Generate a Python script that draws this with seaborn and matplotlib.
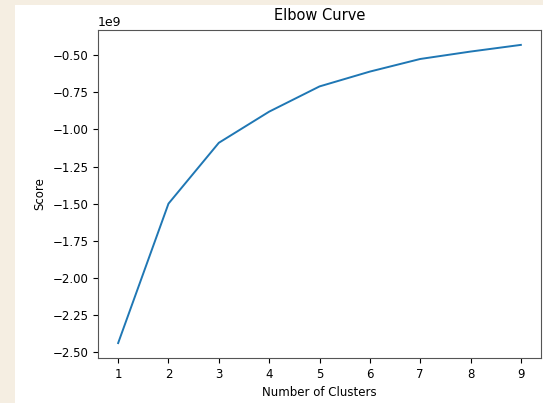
import numpy as np
import pandas as pd
import seaborn as sns
import matplotlib.pyplot as plt
from matplotlib.patches import Rectangle

# elbow curve values
n_clusters = [1, 2, 3, 4, 5, 6, 7, 8, 9]
score = [-2.44e9, -1.50e9, -1.09e9, -0.88e9, -0.71e9, -0.61e9, -0.525e9, -0.475e9, -0.43e9]

df = pd.DataFrame({"clusters": n_clusters, "score": score})

plt.rcParams['font.size'] = 9
fig = plt.figure(figsize=(5.43, 4.03), dpi=100, facecolor="#f5eee2")
# white screenshot area
fig.patches.append(Rectangle((15/543, 0), 1 - 15/543, 1 - 5/403,
                             transform=fig.transFigure, facecolor="white",
                             edgecolor="none", zorder=-10))

ax = fig.add_axes([0.1805, 0.1117, 0.8158, 0.8139])
sns.lineplot(x="clusters", y="score", data=df, ax=ax, color="#1f77b4", linewidth=1.4)
ax.set_xticks(n_clusters)
ax.set_yticks(np.arange(-2.5e9, -0.49e9, 0.25e9))
ax.set_title("Elbow Curve", fontsize=10.5, pad=7)
ax.set_xlabel("Number of Clusters", fontsize=8.5)
ax.set_ylabel("Score", fontsize=8.5)
ax.tick_params(labelsize=8.5)
for s in ax.spines.values():
    s.set_edgecolor("#555555")

plt.savefig("out.png", dpi=100, facecolor=fig.get_facecolor())
